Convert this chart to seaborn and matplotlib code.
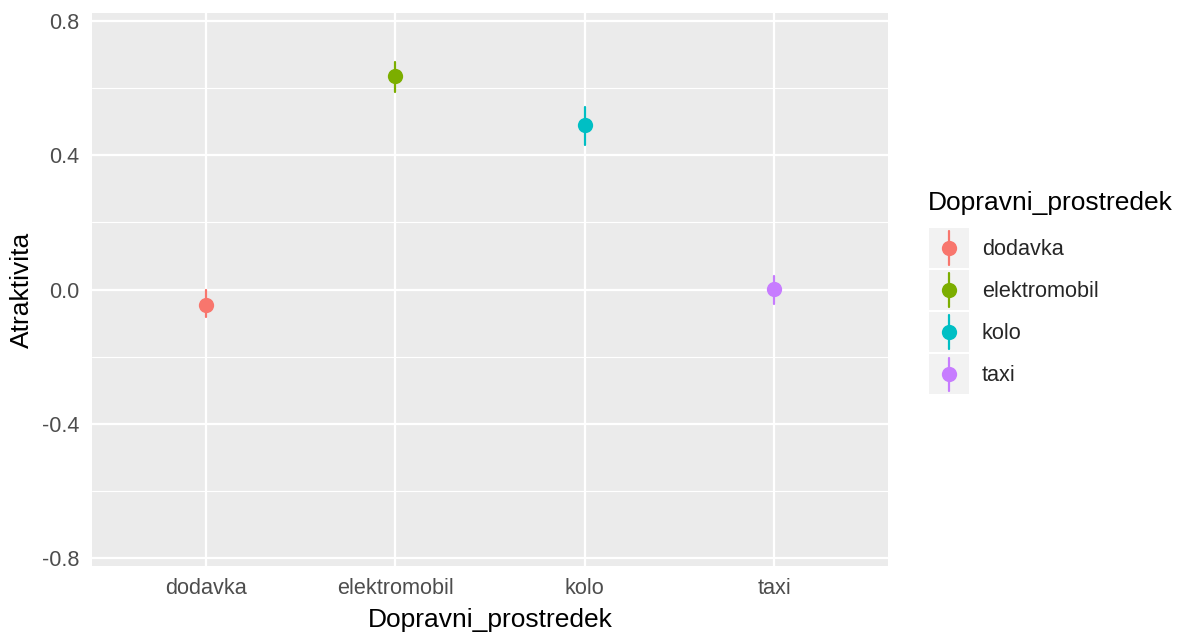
import numpy as np
import pandas as pd
import matplotlib
matplotlib.use("Agg")
import matplotlib.pyplot as plt
from matplotlib.lines import Line2D
from matplotlib.patches import Rectangle
from matplotlib.legend_handler import HandlerBase
import seaborn as sns

# values
categories = ["dodavka", "elektromobil", "kolo", "taxi"]
means = [-0.045, 0.637, 0.492, 0.002]
lower = [-0.083, 0.588, 0.432, -0.042]
upper = [-0.002, 0.680, 0.544, 0.041]
colors = ["#F8766D", "#7CAE00", "#00BFC4", "#C77CFF"]

# long table: low / mid / high per category, median = point, min..max = bar
rows = []
for c, lo, m, hi in zip(categories, lower, means, upper):
    for v in (lo, m, hi):
        rows.append({"Dopravni_prostredek": c, "Atraktivita": v})
df = pd.DataFrame(rows)

sns.set_theme(style="white", rc={
    "axes.facecolor": "#EBEBEB",
    "axes.edgecolor": "none",
})
plt.rcParams["font.family"] = ["Liberation Sans", "DejaVu Sans"]

fig = plt.figure(figsize=(11.84, 6.36), dpi=100)
ax = fig.add_axes([92 / 1184, 70 / 636, 796 / 1184, 553 / 636])

sns.pointplot(data=df, x="Dopravni_prostredek", y="Atraktivita",
              hue="Dopravni_prostredek", order=categories, hue_order=categories,
              palette=colors, estimator="median",
              errorbar=lambda v: (v.min(), v.max()),
              linestyle="none", markers="o", markersize=11,
              markeredgewidth=0, err_kws={"linewidth": 1.6},
              dodge=False, legend=False, ax=ax)

ax.set_xlim(-0.6, 3.6)
ax.set_ylim(-0.825, 0.825)
ax.set_yticks([-0.8, -0.4, 0.0, 0.4, 0.8])
ax.set_yticklabels(["-0.8", "-0.4", "0.0", "0.4", "0.8"])
ax.set_yticks([-0.6, -0.2, 0.2, 0.6], minor=True)
ax.set_axisbelow(True)
ax.grid(which="major", color="white", linewidth=1.6)
ax.grid(which="minor", axis="y", color="white", linewidth=0.8)
for s in ax.spines.values():
    s.set_visible(False)
ax.tick_params(which="major", length=5, width=1, color="#333333",
               labelsize=15.6, labelcolor="#4D4D4D", pad=4)
ax.tick_params(which="minor", length=0)
ax.set_xlabel("Dopravni_prostredek", fontsize=19, color="black", labelpad=6)
ax.set_ylabel("Atraktivita", fontsize=19, color="black", labelpad=6)


# ggplot-like legend key: grey box, vertical range line, dot in the middle
class PointRangeKey(HandlerBase):
    def create_artists(self, legend, orig_handle, xdescent, ydescent,
                       width, height, fontsize, trans):
        col = orig_handle.get_color()
        cx = width / 2 - xdescent
        cy = height / 2 - ydescent
        bg = Rectangle((-xdescent, -ydescent), width, height,
                       facecolor="#F2F2F2", edgecolor="none", transform=trans)
        half = height * 0.42
        vline = Line2D([cx, cx], [cy - half, cy + half], color=col,
                       linewidth=1.6, transform=trans)
        dot = Line2D([cx], [cy], linestyle="none", marker="o", markersize=11,
                     markeredgewidth=0, color=col, transform=trans)
        return [bg, vline, dot]


handles = [Line2D([], [], color=col) for col in colors]
fig.text(928 / 1184, 1 - 203 / 636, "Dopravni_prostredek", fontsize=19,
         ha="left", va="center", color="black")
fig.legend(handles, categories, handler_map={Line2D: PointRangeKey()},
           loc="upper left", bbox_to_anchor=(929 / 1184, 1 - 228 / 636),
           frameon=False, fontsize=15.6, borderpad=0, borderaxespad=0,
           handlelength=1.84, handleheight=2.46, labelspacing=0.1,
           handletextpad=0.6)

fig.savefig("out.png", dpi=100, facecolor="white")
